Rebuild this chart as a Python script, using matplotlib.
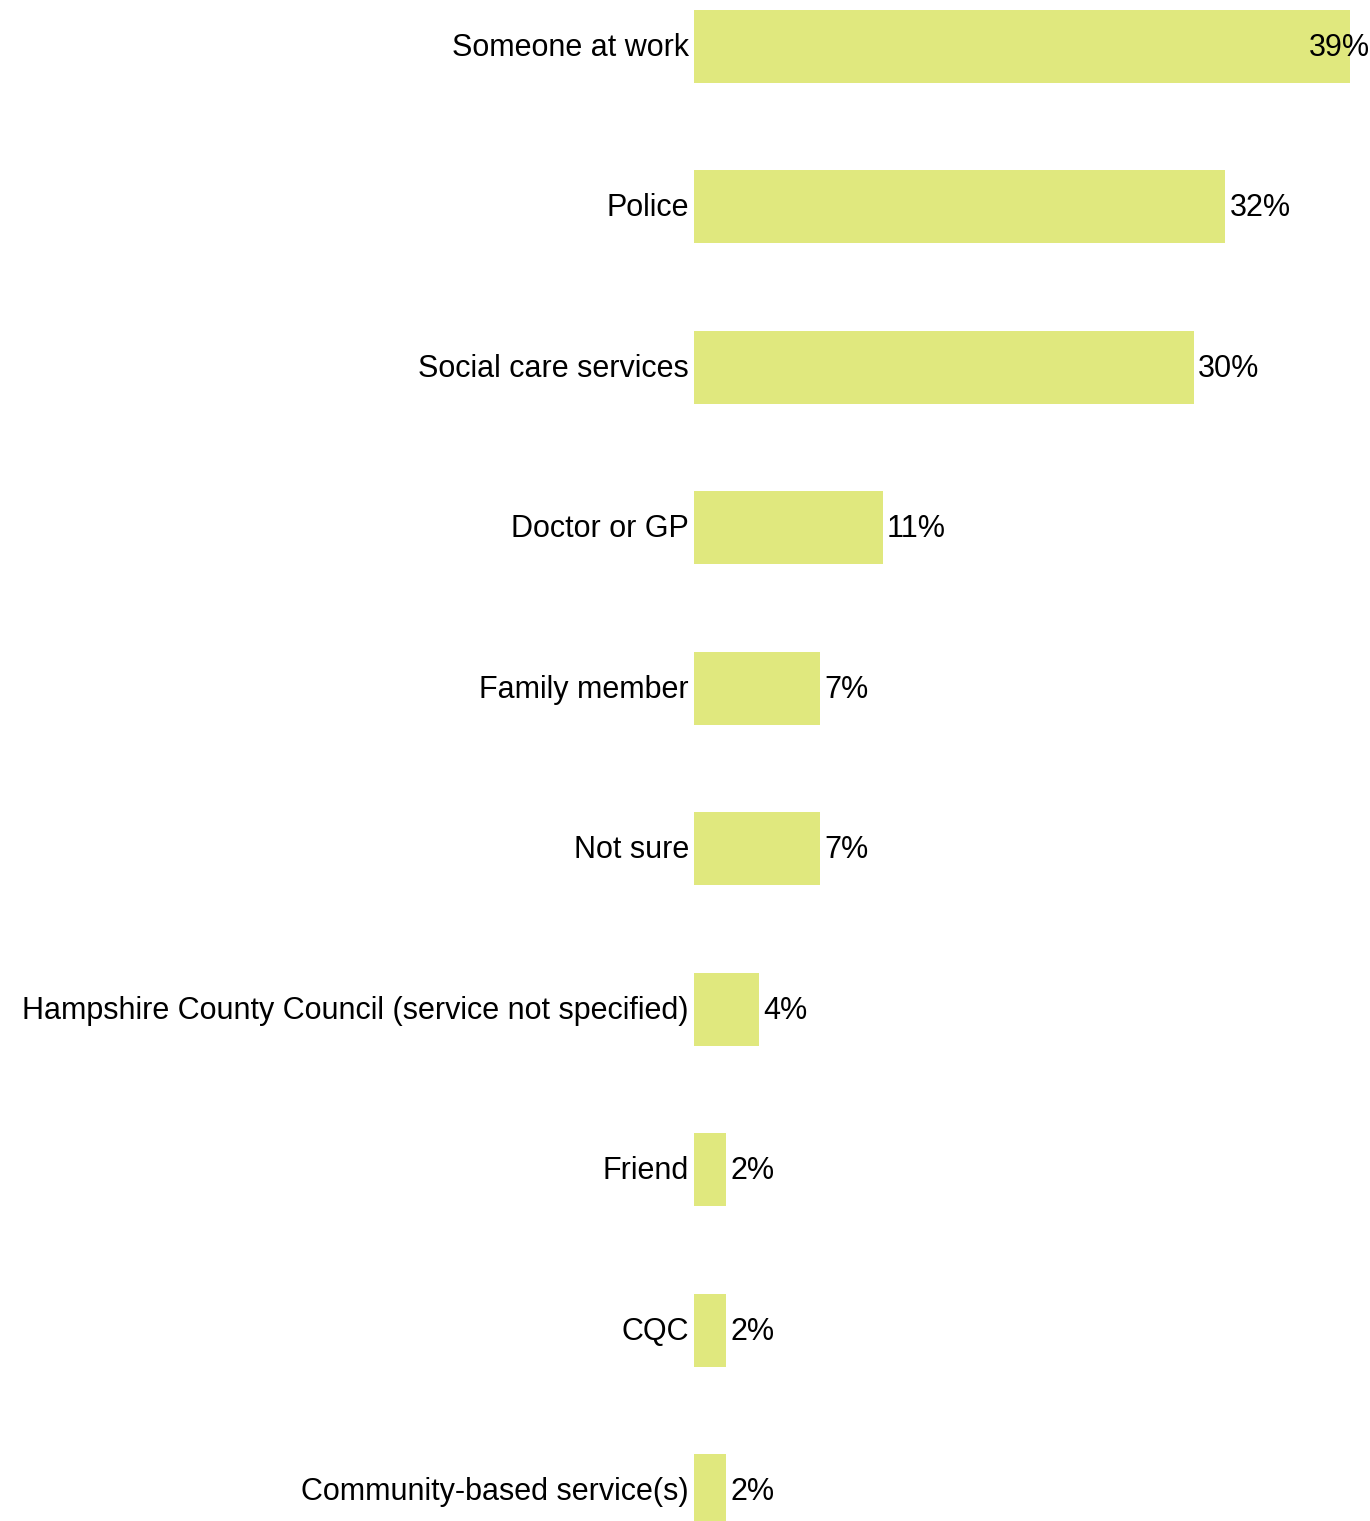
import matplotlib.pyplot as plt

# data
categories = ['Someone at work', 'Police', 'Social care services', 'Doctor or GP',
              'Family member', 'Not sure', 'Hampshire County Council (service not specified)',
              'Friend', 'CQC', 'Community-based service(s)']
values = [38.6, 31.25, 29.4, 11.1, 7.4, 7.4, 3.8, 1.9, 1.9, 1.9]
labels = ['39%', '32%', '30%', '11%', '7%', '7%', '4%', '2%', '2%', '2%']

plt.rcParams['font.family'] = ['Liberation Sans', 'DejaVu Sans']

W, H = 1370, 1521
fig = plt.figure(figsize=(W / 100, H / 100), dpi=100)
ax = fig.add_axes([694 / W, 0, 1 - 694 / W, 1])

ypos = list(range(len(categories)))
ax.barh(ypos, values, height=0.455, color='#e0e87e')
ax.set_xlim(0, 676 / 17)
ax.set_ylim(9.19, -0.287)

xmax = ax.get_xlim()[1]
for y, v, lab in zip(ypos, values, labels):
    if v + 4 > xmax:
        ax.text(xmax - 0.03, y + 0.01, lab, ha='right', va='center', fontsize=22)
    else:
        ax.text(v + 0.25, y + 0.01, lab, ha='left', va='center', fontsize=22)
    ax.text(-0.3, y + 0.01, categories[y], ha='right', va='center', fontsize=22)

ax.axis('off')
fig.savefig('out.png', dpi=100)
